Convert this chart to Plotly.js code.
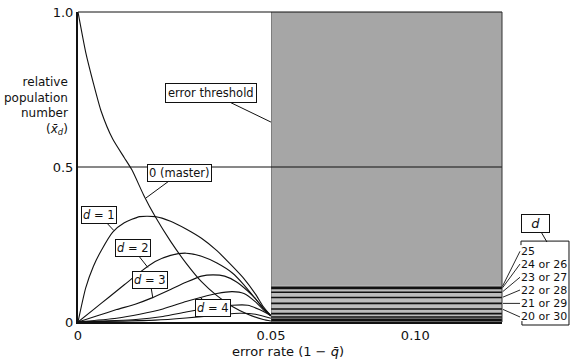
<!DOCTYPE html>
<html>
<head>
<meta charset="utf-8">
<script src="https://cdn.plot.ly/plotly-3.0.1.min.js"></script>
<style>html,body{margin:0;padding:0;background:#fff;}#chart{width:571px;height:361px;}</style>
</head>
<body>
<div id="chart"></div>
<script>
// ---- data ----
// error rate (1 - q) below the threshold
const masterX = [0, 0.002, 0.004, 0.006, 0.009, 0.012, 0.014, 0.017, 0.020, 0.024, 0.028, 0.032, 0.036, 0.040, 0.044, 0.048, 0.050];
const masterY = [1.0, 0.87, 0.77, 0.68, 0.59, 0.53, 0.49, 0.41, 0.34, 0.26, 0.19, 0.13, 0.085, 0.05, 0.025, 0.008, 0.003];

const d1X = [0, 0.002, 0.004, 0.006, 0.009, 0.012, 0.016, 0.020, 0.024, 0.028, 0.032, 0.036, 0.040, 0.043, 0.046, 0.048, 0.050];
const d1Y = [0, 0.11, 0.18, 0.23, 0.29, 0.32, 0.34, 0.34, 0.325, 0.30, 0.27, 0.23, 0.18, 0.14, 0.09, 0.05, 0.02];

const d2X = [0, 0.004, 0.008, 0.012, 0.016, 0.020, 0.024, 0.028, 0.032, 0.036, 0.040, 0.043, 0.046, 0.048, 0.050];
const d2Y = [0, 0.04, 0.08, 0.12, 0.16, 0.195, 0.215, 0.222, 0.212, 0.19, 0.158, 0.12, 0.075, 0.045, 0.02];

const d3X = [0, 0.005, 0.010, 0.015, 0.019, 0.024, 0.028, 0.032, 0.035, 0.038, 0.041, 0.044, 0.046, 0.048, 0.050];
const d3Y = [0, 0.02, 0.04, 0.058, 0.077, 0.105, 0.128, 0.148, 0.152, 0.148, 0.13, 0.10, 0.075, 0.045, 0.02];

const d4X = [0, 0.010, 0.016, 0.022, 0.028, 0.032, 0.036, 0.040, 0.043, 0.046, 0.048, 0.050];
const d4Y = [0, 0.012, 0.025, 0.042, 0.066, 0.08, 0.092, 0.098, 0.092, 0.065, 0.04, 0.02];

const d5X = [0, 0.015, 0.022, 0.028, 0.034, 0.040, 0.044, 0.047, 0.050];
const d5Y = [0, 0.008, 0.018, 0.032, 0.045, 0.054, 0.054, 0.04, 0.02];

const d6X = [0, 0.020, 0.028, 0.036, 0.042, 0.046, 0.050];
const d6Y = [0, 0.006, 0.013, 0.022, 0.028, 0.025, 0.012];

// beyond the error threshold: flat levels of the classes d
const outerStart = 0.05, outerEnd = 0.13;
const outerLevels = [0.112, 0.108, 0.096, 0.079, 0.060, 0.042, 0.027, 0.016, 0.009, 0.004];
const outerLabels = ['25', '24 or 26', '23 or 27', '22 or 28', '21 or 29', '20 or 30'];

const leftTicks = [0], leftTickText = ['0'];
const rightTicks = [0.05, 0.10], rightTickText = ['0.05', '0.10'];
const yTicks = [0, 0.5, 1.0], yTickText = ['0', '0.5', '1.0'];

// ---- traces ----
const FONT = 'DejaVu Sans, Liberation Sans, sans-serif';
const lineStyle = {color: '#111', width: 1.1, shape: 'spline', smoothing: 0.6};
const curves = [[masterX, masterY], [d1X, d1Y], [d2X, d2Y], [d3X, d3Y], [d4X, d4Y], [d5X, d5Y], [d6X, d6Y]];
const traces = curves.map(c => ({
  x: c[0], y: c[1], type: 'scatter', mode: 'lines', xaxis: 'x', yaxis: 'y',
  line: lineStyle, hoverinfo: 'skip', showlegend: false
}));
outerLevels.forEach(v => traces.push({
  x: [outerStart, outerEnd], y: [v, v], type: 'scatter', mode: 'lines',
  xaxis: 'x2', yaxis: 'y', line: {color: '#111', width: 1.6}, hoverinfo: 'skip', showlegend: false
}));

// ---- annotations ----
const boxFont = {family: FONT, size: 11.5, color: '#111'};
function callout(text, x, y, ax, ay, pad) {
  return {text: text, x: x, y: y, xref: 'x', yref: 'y', ax: ax, ay: ay,
    showarrow: true, arrowhead: 0, arrowwidth: 1, arrowcolor: '#111',
    bgcolor: '#fff', bordercolor: '#111', borderwidth: 1, borderpad: pad || 1, font: boxFont};
}
const annotations = [
  callout('error threshold', 0.05, 0.645, -60, -29, 2),
  callout('0 (master)', 0.0176, 0.40, 34, -25, 1),
  callout('<i>d</i> = 1', 0.0093, 0.295, -15, -16, 1),
  callout('<i>d</i> = 2', 0.0181, 0.176, -15, -19, 1),
  callout('<i>d</i> = 3', 0.0194, 0.077, -3, -18, 1),
  callout('<i>d</i> = 4', 0.0316, 0.08, 13, 11, 1),
  {text: 'relative<br>population<br>number<br>(<i>x̄</i><sub><i>d</i></sub>)', xref: 'paper', yref: 'paper',
   x: -0.019, y: 0.697, xanchor: 'right', yanchor: 'middle', align: 'right', showarrow: false,
   font: {family: FONT, size: 12, color: '#111'}},
  {text: 'error rate (1 − <i>q̄</i>)', xref: 'paper', yref: 'paper', x: 0.495, y: -0.094,
   xanchor: 'center', yanchor: 'middle', showarrow: false, font: {family: FONT, size: 13, color: '#111'}},
  {text: '  <i>d</i>  ', xref: 'paper', yref: 'paper', x: 1.106, y: 0.258, ax: -11, ay: -19,
   showarrow: true, arrowhead: 0, arrowwidth: 1, arrowcolor: '#111', bgcolor: '#fff',
   bordercolor: '#111', borderwidth: 1, borderpad: 1, font: {family: FONT, size: 13, color: '#111'}}
];
const labelOffsets = [[18, -36], [18, -24.5], [18, -15], [18, -7.5], [18, 0], [18, 8]];
outerLabels.forEach((t, i) => annotations.push({
  text: t, x: outerEnd, y: outerLevels[i], xref: 'x2', yref: 'y',
  ax: labelOffsets[i][0], ay: labelOffsets[i][1], xanchor: 'left', yanchor: 'middle',
  showarrow: true, arrowhead: 0, arrowwidth: 0.9, arrowcolor: '#111', standoff: 1, borderpad: 0,
  font: {family: FONT, size: 11, color: '#111'}
}));

// ---- shapes ----
const shapes = [
  {type: 'rect', xref: 'x2', yref: 'y', x0: outerStart, x1: outerEnd, y0: 0, y1: 1, layer: 'below',
   fillcolor: '#a6a6a6', line: {width: 0}},
  {type: 'rect', xref: 'x2', yref: 'y', x0: outerStart, x1: outerEnd, y0: 0, y1: outerLevels[0] + 0.006, layer: 'below',
   fillcolor: '#bdbdbd', line: {width: 0}},
  {type: 'line', xref: 'x2', yref: 'y', x0: outerStart, x1: outerStart, y0: 0, y1: 1, line: {color: '#444', width: 1}},
  {type: 'line', xref: 'paper', yref: 'y', x0: 0, x1: 1, y0: 0.5, y1: 0.5, line: {color: '#111', width: 1}},
  {type: 'line', xref: 'paper', yref: 'paper', x0: 0, x1: 1, y0: 1, y1: 1, line: {color: '#111', width: 1}},
  {type: 'line', xref: 'paper', yref: 'paper', x0: 1, x1: 1, y0: 0, y1: 1, line: {color: '#333', width: 1}},
  // bracket around the right-hand labels
  {type: 'path', xref: 'paper', yref: 'paper', path: 'M 1.0448 0.248 L 1.0448 0.261 L 1.158 0.261 L 1.158 -0.0097 L 1.047 -0.0097 L 1.047 0.003',
   line: {color: '#111', width: 1}}
];

const layout = {
  width: 571, height: 361,
  margin: {l: 78, r: 69, t: 12, b: 39, pad: 0},
  paper_bgcolor: '#fff', plot_bgcolor: '#fff',
  showlegend: false,
  font: {family: FONT, size: 13, color: '#111'},
  xaxis: {domain: [0, 0.455], range: [0, 0.05], anchor: 'y', showgrid: false, zeroline: false,
    showline: true, linecolor: '#111', linewidth: 2, ticks: '', tickvals: leftTicks, ticktext: leftTickText,
    tickfont: {family: FONT, size: 13, color: '#111'}},
  xaxis2: {domain: [0.455, 1], range: [outerStart, outerEnd], anchor: 'y', showgrid: false, zeroline: false,
    showline: true, linecolor: '#111', linewidth: 2, ticks: '', tickvals: rightTicks, ticktext: rightTickText,
    tickfont: {family: FONT, size: 13, color: '#111'}},
  yaxis: {domain: [0, 1], range: [0, 1], showgrid: false, zeroline: false, showline: true,
    linecolor: '#111', linewidth: 2, ticks: '', tickvals: yTicks, ticktext: yTickText,
    tickfont: {family: FONT, size: 13, color: '#111'}},
  shapes: shapes,
  annotations: annotations
};

Plotly.newPlot('chart', traces, layout, {displayModeBar: false, staticPlot: true});
</script>
</body>
</html>
